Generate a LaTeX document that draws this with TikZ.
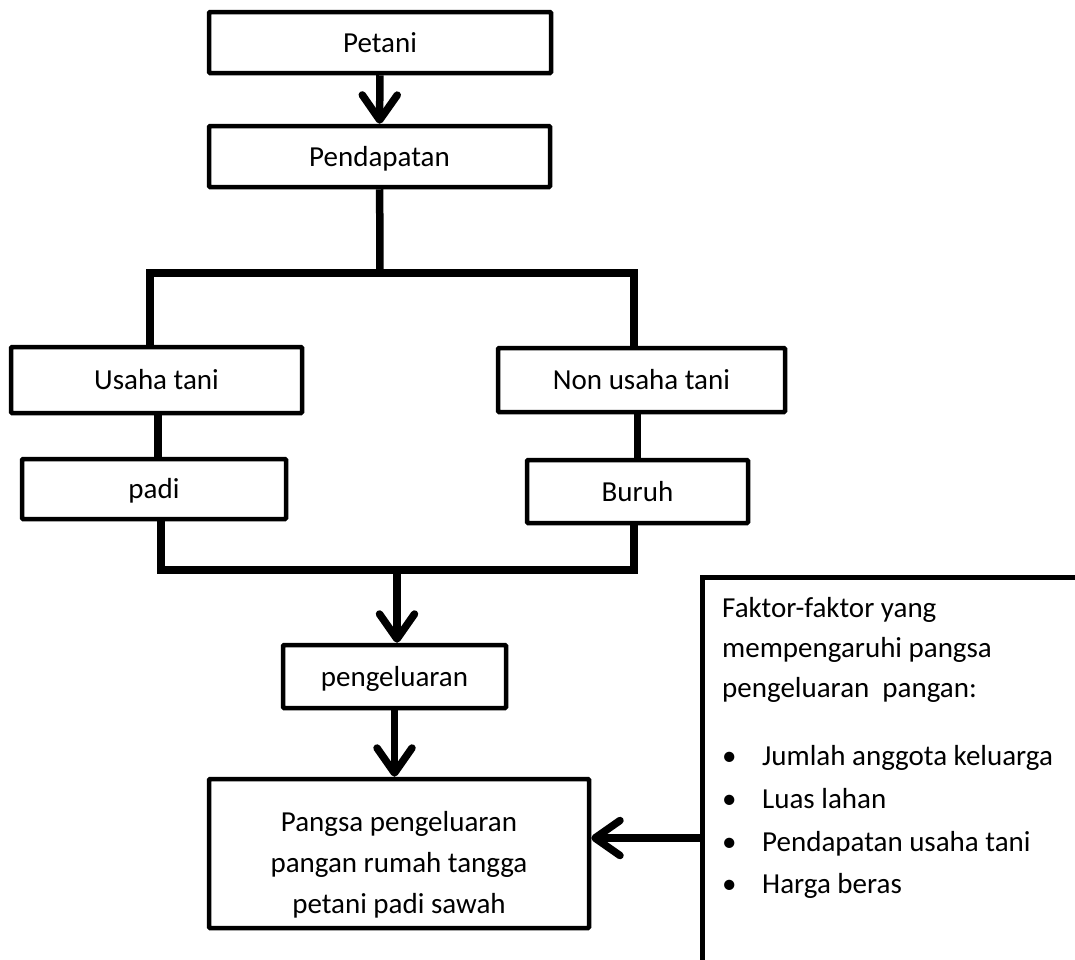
\documentclass[tikz,border=0pt]{standalone}
\usepackage{fontspec}
\setmainfont{Carlito}
\usepackage{tikz}
\usetikzlibrary{arrows.meta}

\begin{document}
\begin{tikzpicture}
      [x=1pt, y=-1pt,
      box style/.style={draw, rectangle, line width=4.5pt, rounded corners=1pt, align=center, inner sep=0pt, text height=20pt, text depth=1pt, font=\fontsize{29}{41}\selectfont},
      text style/.style={inner sep=0pt, align=center, font=\fontsize{29}{41}\selectfont},
      link style/.style={draw, line width=7.5pt},
      arrow style/.style={link style, -{Straight Barb[length=25pt, width=35pt, round]}}
      ]
      \useasboundingbox (0,0) rectangle (1075,959);
      \clip (0,0) rectangle (1075,959);

      % boxes
      \node[box style, minimum width=342pt, minimum height=61pt] (petani) at (380,42.5) {Petani};
      \node[box style, minimum width=341pt, minimum height=61pt] (pendapatan) at (379.5,156.5) {Pendapatan};
      \node[box style, minimum width=291pt, minimum height=66pt] (usaha) at (156.5,380) {Usaha tani};
      \node[box style, minimum width=287pt, minimum height=64pt] (nonusaha) at (641.5,380) {Non usaha tani};
      \node[box style, minimum width=264pt, minimum height=60pt] (padi) at (154,489) {padi};
      \node[box style, minimum width=221pt, minimum height=63pt] (buruh) at (637.5,491.5) {Buruh};
      \node[box style, minimum width=223pt, minimum height=63pt] (pengeluaran) at (394.5,676.5) {pengeluaran};
      \node[box style, minimum width=380pt, minimum height=149pt] (pangsa) at (399,853.5) {};
      \node[text style] (pangsatext) at (399,865) {Pangsa pengeluaran\\pangan rumah tangga\\petani padi sawah};

      % faktor box, cut off at the page edge
      \node[box style, rounded corners=0pt, minimum width=420pt, minimum height=385pt, anchor=north west] (faktor) at (700,575) {};
      \node[text style, align=left, anchor=north west, font=\fontsize{29}{40}\selectfont] (faktortext) at (722,597)
        {Faktor-faktor yang\\
         mempengaruhi pangsa\\
         pengeluaran\ \ pangan:\\[28pt]
         \makebox[40pt][l]{\textbullet}Jumlah anggota keluarga\\[3pt]
         \makebox[40pt][l]{\textbullet}Luas lahan\\[3pt]
         \makebox[40pt][l]{\textbullet}Pendapatan usaha tani\\[2pt]
         \makebox[40pt][l]{\textbullet}Harga beras};

      % connectors
      \coordinate (fork) at (380,273);
      \coordinate (join) at (397,570);
      \coordinate (feed) at (700,838);

      \draw[arrow style] (petani) -- (pendapatan);
      \draw[link style] (pendapatan) -- (fork);
      \draw[link style] ([xshift=-6.5pt]usaha.north) |- (fork);
      \draw[link style] ([xshift=-7.5pt]nonusaha.north) |- (fork);
      \draw[link style] ([xshift=1.5pt]usaha.south) -- ([xshift=1.5pt]usaha.south |- padi.north);
      \draw[link style] (buruh.north) -- (buruh.north |- nonusaha.south);
      \draw[link style] ([xshift=7pt]padi.south) |- (join) -| ([xshift=-3.5pt]buruh.south);
      \draw[arrow style] (join) -- (join |- pengeluaran.north);
      \draw[arrow style] (pengeluaran.south) -- (pengeluaran.south |- pangsa.north);
      \draw[arrow style] (feed) -- (feed -| pangsa.east);
\end{tikzpicture}
\end{document}
